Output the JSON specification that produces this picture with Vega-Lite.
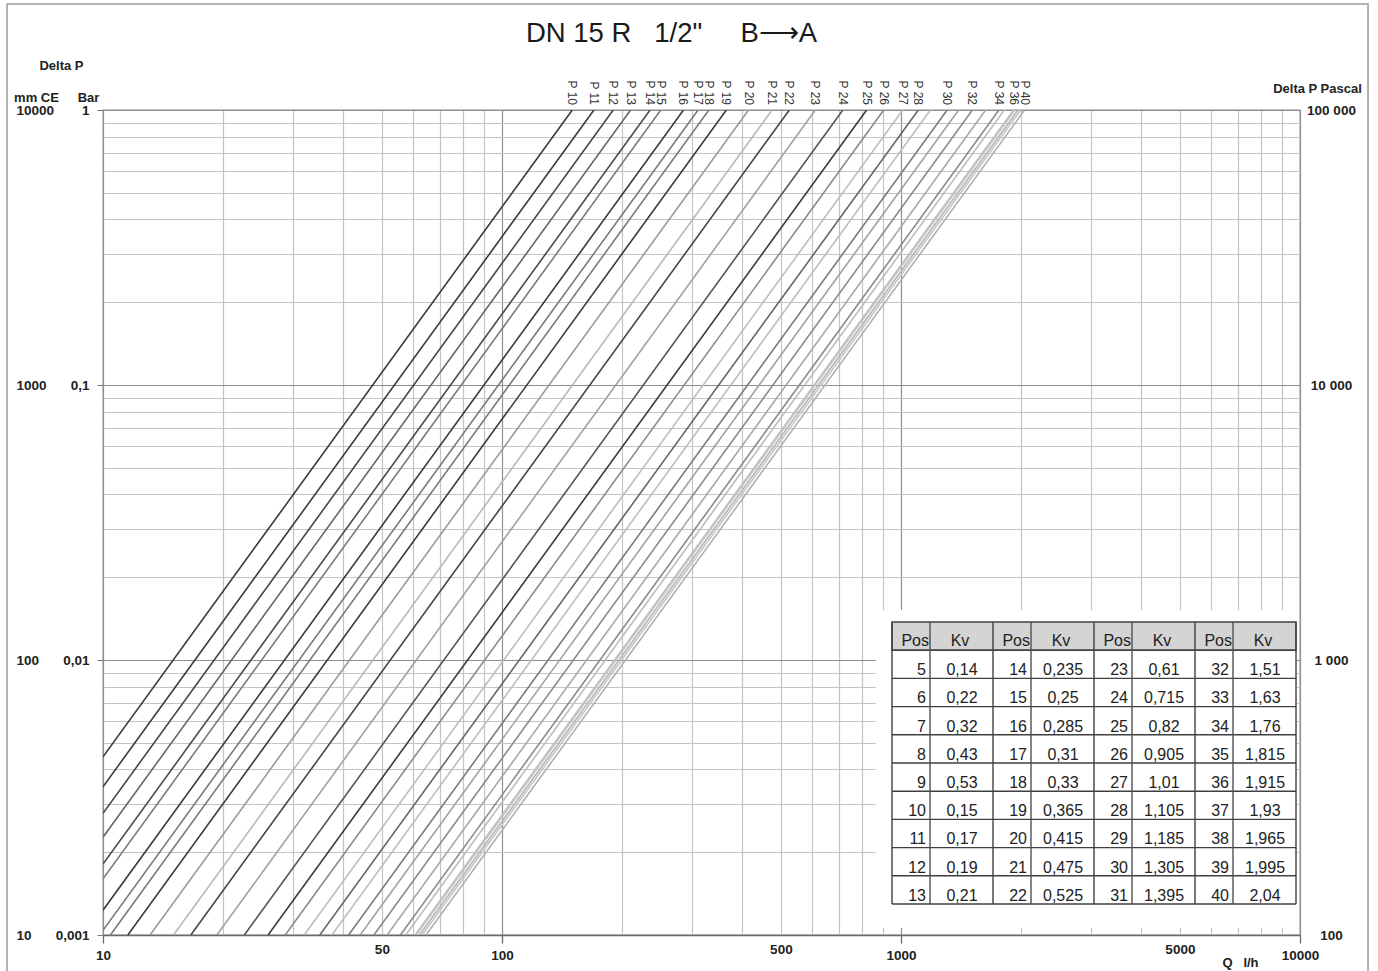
{
  "$schema": "https://vega.github.io/schema/vega-lite/v6.json",
  "width": 1197,
  "height": 825,
  "autosize": "none",
  "padding": {"left": 103, "top": 110, "right": 78, "bottom": 36},
  "background": "white",
  "config": {
    "locale": {"number": {"decimal": ",", "thousands": " ", "grouping": [3], "currency": ["", " €"]}},
    "view": {"stroke": "#8c8c8c", "strokeWidth": 1.3},
    "axis": {
      "labelFont": "Liberation Sans", "labelFontWeight": "bold", "labelFontSize": 13.5, "labelColor": "#222222",
      "titleFont": "Liberation Sans", "titleFontWeight": "bold", "titleFontSize": 13, "titleColor": "#222222",
      "grid": false, "labelFlush": false, "labelOverlap": false
    }
  },
  "title": {
    "text": "DN 15 R\u00a0\u00a0\u00a01/2\"\u00a0\u00a0\u00a0\u00a0\u00a0B⟶A",
    "font": "Liberation Sans", "fontSize": 27.5, "fontWeight": "normal", "color": "#1a1a1a",
    "anchor": "middle", "frame": "group", "baseline": "alphabetic", "offset": -66, "dx": -30
  },
  "datasets": {
    "lines": [
      {"pos": "P10", "q": 10, "dp": 0.0044444}, {"pos": "P10", "q": 150, "dp": 1},
      {"pos": "P11", "q": 10, "dp": 0.0034602}, {"pos": "P11", "q": 170, "dp": 1},
      {"pos": "P12", "q": 10, "dp": 0.0027701}, {"pos": "P12", "q": 190, "dp": 1},
      {"pos": "P13", "q": 10, "dp": 0.0022676}, {"pos": "P13", "q": 210, "dp": 1},
      {"pos": "P14", "q": 10, "dp": 0.0018108}, {"pos": "P14", "q": 235, "dp": 1},
      {"pos": "P15", "q": 10, "dp": 0.0016}, {"pos": "P15", "q": 250, "dp": 1},
      {"pos": "P16", "q": 10, "dp": 0.0012311}, {"pos": "P16", "q": 285, "dp": 1},
      {"pos": "P17", "q": 10, "dp": 0.0010406}, {"pos": "P17", "q": 310, "dp": 1},
      {"pos": "P18", "q": 10.436, "dp": 0.001}, {"pos": "P18", "q": 330, "dp": 1},
      {"pos": "P19", "q": 11.542, "dp": 0.001}, {"pos": "P19", "q": 365, "dp": 1},
      {"pos": "P20", "q": 13.123, "dp": 0.001}, {"pos": "P20", "q": 415, "dp": 1},
      {"pos": "P21", "q": 15.021, "dp": 0.001}, {"pos": "P21", "q": 475, "dp": 1},
      {"pos": "P22", "q": 16.602, "dp": 0.001}, {"pos": "P22", "q": 525, "dp": 1},
      {"pos": "P23", "q": 19.29, "dp": 0.001}, {"pos": "P23", "q": 610, "dp": 1},
      {"pos": "P24", "q": 22.61, "dp": 0.001}, {"pos": "P24", "q": 715, "dp": 1},
      {"pos": "P25", "q": 25.931, "dp": 0.001}, {"pos": "P25", "q": 820, "dp": 1},
      {"pos": "P26", "q": 28.619, "dp": 0.001}, {"pos": "P26", "q": 905, "dp": 1},
      {"pos": "P27", "q": 31.939, "dp": 0.001}, {"pos": "P27", "q": 1010, "dp": 1},
      {"pos": "P28", "q": 34.943, "dp": 0.001}, {"pos": "P28", "q": 1105, "dp": 1},
      {"pos": "P29", "q": 37.473, "dp": 0.001}, {"pos": "P29", "q": 1185, "dp": 1},
      {"pos": "P30", "q": 41.268, "dp": 0.001}, {"pos": "P30", "q": 1305, "dp": 1},
      {"pos": "P31", "q": 44.114, "dp": 0.001}, {"pos": "P31", "q": 1395, "dp": 1},
      {"pos": "P32", "q": 47.75, "dp": 0.001}, {"pos": "P32", "q": 1510, "dp": 1},
      {"pos": "P33", "q": 51.545, "dp": 0.001}, {"pos": "P33", "q": 1630, "dp": 1},
      {"pos": "P34", "q": 55.656, "dp": 0.001}, {"pos": "P34", "q": 1760, "dp": 1},
      {"pos": "P35", "q": 57.395, "dp": 0.001}, {"pos": "P35", "q": 1815, "dp": 1},
      {"pos": "P36", "q": 60.558, "dp": 0.001}, {"pos": "P36", "q": 1915, "dp": 1},
      {"pos": "P37", "q": 61.032, "dp": 0.001}, {"pos": "P37", "q": 1930, "dp": 1},
      {"pos": "P38", "q": 62.139, "dp": 0.001}, {"pos": "P38", "q": 1965, "dp": 1},
      {"pos": "P39", "q": 63.087, "dp": 0.001}, {"pos": "P39", "q": 1995, "dp": 1},
      {"pos": "P40", "q": 64.51, "dp": 0.001}, {"pos": "P40", "q": 2040, "dp": 1}
    ],
    "labels": [
      {"label": "P 10", "q": 150}, {"label": "P 11", "q": 170}, {"label": "P 12", "q": 190},
      {"label": "P 13", "q": 210}, {"label": "P 14", "q": 235}, {"label": "P 15", "q": 250},
      {"label": "P 16", "q": 285}, {"label": "P 17", "q": 310}, {"label": "P 18", "q": 330},
      {"label": "P 19", "q": 365}, {"label": "P 20", "q": 415}, {"label": "P 21", "q": 475},
      {"label": "P 22", "q": 525}, {"label": "P 23", "q": 610}, {"label": "P 24", "q": 715},
      {"label": "P 25", "q": 820}, {"label": "P 26", "q": 905}, {"label": "P 27", "q": 1010},
      {"label": "P 28", "q": 1105}, {"label": "P 30", "q": 1305}, {"label": "P 32", "q": 1510},
      {"label": "P 34", "q": 1760}, {"label": "P 36", "q": 1915}, {"label": "P 40", "q": 2040}
    ],
    "table": [
      {"row": 1, "group": 0, "pos": 5, "kv": 0.14}, {"row": 2, "group": 0, "pos": 6, "kv": 0.22},
      {"row": 3, "group": 0, "pos": 7, "kv": 0.32}, {"row": 4, "group": 0, "pos": 8, "kv": 0.43},
      {"row": 5, "group": 0, "pos": 9, "kv": 0.53}, {"row": 6, "group": 0, "pos": 10, "kv": 0.15},
      {"row": 7, "group": 0, "pos": 11, "kv": 0.17}, {"row": 8, "group": 0, "pos": 12, "kv": 0.19},
      {"row": 9, "group": 0, "pos": 13, "kv": 0.21},
      {"row": 1, "group": 1, "pos": 14, "kv": 0.235}, {"row": 2, "group": 1, "pos": 15, "kv": 0.25},
      {"row": 3, "group": 1, "pos": 16, "kv": 0.285}, {"row": 4, "group": 1, "pos": 17, "kv": 0.31},
      {"row": 5, "group": 1, "pos": 18, "kv": 0.33}, {"row": 6, "group": 1, "pos": 19, "kv": 0.365},
      {"row": 7, "group": 1, "pos": 20, "kv": 0.415}, {"row": 8, "group": 1, "pos": 21, "kv": 0.475},
      {"row": 9, "group": 1, "pos": 22, "kv": 0.525},
      {"row": 1, "group": 2, "pos": 23, "kv": 0.61}, {"row": 2, "group": 2, "pos": 24, "kv": 0.715},
      {"row": 3, "group": 2, "pos": 25, "kv": 0.82}, {"row": 4, "group": 2, "pos": 26, "kv": 0.905},
      {"row": 5, "group": 2, "pos": 27, "kv": 1.01}, {"row": 6, "group": 2, "pos": 28, "kv": 1.105},
      {"row": 7, "group": 2, "pos": 29, "kv": 1.185}, {"row": 8, "group": 2, "pos": 30, "kv": 1.305},
      {"row": 9, "group": 2, "pos": 31, "kv": 1.395},
      {"row": 1, "group": 3, "pos": 32, "kv": 1.51}, {"row": 2, "group": 3, "pos": 33, "kv": 1.63},
      {"row": 3, "group": 3, "pos": 34, "kv": 1.76}, {"row": 4, "group": 3, "pos": 35, "kv": 1.815},
      {"row": 5, "group": 3, "pos": 36, "kv": 1.915}, {"row": 6, "group": 3, "pos": 37, "kv": 1.93},
      {"row": 7, "group": 3, "pos": 38, "kv": 1.965}, {"row": 8, "group": 3, "pos": 39, "kv": 1.995},
      {"row": 9, "group": 3, "pos": 40, "kv": 2.04}
    ]
  },
  "resolve": {"scale": {"x": "independent", "y": "independent", "color": "independent"}},
  "layer": [
    {
      "data": {"name": "lines"},
      "mark": {"type": "point", "opacity": 0},
      "encoding": {
        "x": {"field": "q", "type": "quantitative", "scale": {"type": "log", "domain": [10, 10000], "nice": false},
          "axis": {"orient": "bottom", "grid": true, "values": [10,20,30,40,50,60,70,80,90,100,200,300,400,500,600,700,800,900,1000,2000,3000,4000,5000,6000,7000,8000,9000,10000],
            "labels": false, "ticks": false, "domain": false, "title": null, "gridWidth": 1.2,
            "gridColor": {"condition": {"test": "indexof([10,100,1000,10000], datum.value) >= 0", "value": "#8f8f8f"}, "value": "#c4c4c4"}}},
        "y": {"field": "dp", "type": "quantitative", "scale": {"type": "log", "domain": [0.001, 1], "nice": false},
          "axis": {"orient": "left", "grid": true, "values": [0.001,0.002,0.003,0.004,0.005,0.006,0.007,0.008,0.009,0.01,0.02,0.03,0.04,0.05,0.06,0.07,0.08,0.09,0.1,0.2,0.3,0.4,0.5,0.6,0.7,0.8,0.9,1],
            "labels": false, "ticks": false, "domain": false, "title": null, "gridWidth": 1.2,
            "gridColor": {"condition": {"test": "indexof([0.001,0.01,0.1,1], datum.value) >= 0", "value": "#8f8f8f"}, "value": "#c4c4c4"}}}
      }
    },
    {
      "data": {"name": "lines"},
      "mark": {"type": "line", "strokeWidth": 1.6, "clip": true},
      "encoding": {
        "x": {"field": "q", "type": "quantitative", "scale": {"type": "log", "domain": [10, 10000], "nice": false},
          "axis": {"orient": "bottom", "values": [10, 100, 1000, 10000], "format": "d", "domain": true, "domainColor": "#6a6a6a", "domainWidth": 1.5,
            "ticks": true, "tickColor": "#6a6a6a", "tickSize": 8, "tickWidth": 1.3, "labelPadding": 5,
            "title": "Q\u00a0\u00a0\u00a0l/h", "titleAngle": 0, "titleX": 1137, "titleY": 27, "titleAlign": "center", "titleBaseline": "middle"}},
        "y": {"field": "dp", "type": "quantitative", "scale": {"type": "log", "domain": [0.001, 1], "nice": false},
          "axis": {"orient": "left", "values": [1, 0.1, 0.01, 0.001], "labelExpr": "replace(format(datum.value, '~g'), '.', ',')",
            "domain": false, "ticks": true, "tickColor": "#777777", "tickSize": 6, "labelPadding": 8,
            "title": "Bar", "titleAngle": 0, "titleX": -15, "titleY": -13, "titleAlign": "center", "titleBaseline": "middle"}},
        "color": {"field": "pos", "type": "nominal", "legend": null,
          "scale": {"domain": ["P10","P11","P12","P13","P14","P15","P16","P17","P18","P19","P20","P21","P22","P23","P24","P25","P26","P27","P28","P29","P30","P31","P32","P33","P34","P35","P36","P37","P38","P39","P40"],
            "range": ["#3a3a3a","#3a3a3a","#454545","#666666","#4a4a4a","#7a7a7a","#3a3a3a","#7a7a7a","#7a7a7a","#3a3a3a","#9a9a9a","#b8b8b8","#454545","#a0a0a0","#555555","#3a3a3a","#8a8a8a","#bdbdbd","#666666","#bdbdbd","#7a7a7a","#a0a0a0","#8a8a8a","#a8a8a8","#8a8a8a","#bdbdbd","#bdbdbd","#c6c6c6","#b5b5b5","#c6c6c6","#b0b0b0"]}}
      }
    },
    {
      "data": {"name": "labels"},
      "mark": {"type": "text", "angle": 90, "align": "right", "baseline": "middle", "dx": -5, "font": "Liberation Sans", "fontSize": 12, "color": "#333333"},
      "encoding": {
        "x": {"field": "q", "type": "quantitative", "scale": {"type": "log", "domain": [10, 10000], "nice": false},
          "axis": {"orient": "bottom", "values": [50, 500, 5000], "format": "d", "domain": false, "ticks": false, "tickSize": 0, "labelPadding": 7, "title": null}},
        "y": {"datum": 1, "type": "quantitative", "scale": {"type": "log", "domain": [0.001, 1], "nice": false},
          "axis": {"orient": "left", "values": [1, 0.1, 0.01, 0.001], "labelExpr": "format(datum.value*10000, 'd')",
            "labelAlign": "left", "domain": false, "ticks": false, "tickSize": 0, "labelPadding": 87,
            "title": "mm CE", "titleAngle": 0, "titleX": -67, "titleY": -13, "titleAlign": "center", "titleBaseline": "middle"}},
        "text": {"field": "label", "type": "nominal"}
      }
    },
    {
      "data": {"name": "lines"},
      "mark": {"type": "point", "opacity": 0},
      "encoding": {
        "y": {"field": "dp", "type": "quantitative", "scale": {"type": "log", "domain": [0.001, 1], "nice": false},
          "axis": {"orient": "right", "values": [1, 0.1, 0.01, 0.001], "labelExpr": "replace(format(datum.value*100000, ',d'), ',', ' ')",
            "labelAlign": "center", "domain": false, "ticks": false, "tickSize": 0, "labelPadding": 31,
            "title": "Delta P Pascal", "titleAngle": 0, "titleX": 17, "titleY": -22, "titleAlign": "center", "titleBaseline": "middle"}}
      }
    },
    {
      "data": {"name": "lines"},
      "mark": {"type": "point", "opacity": 0},
      "encoding": {
        "y": {"field": "dp", "type": "quantitative", "scale": {"type": "log", "domain": [0.001, 1], "nice": false},
          "axis": {"orient": "left", "labels": false, "domain": false, "ticks": false,
            "title": "Delta P", "titleAngle": 0, "titleX": -42, "titleY": -45, "titleAlign": "center", "titleBaseline": "middle"}}
      }
    },
    {
      "data": {"values": [{}]},
      "mark": {"type": "rect", "fill": "white", "stroke": null},
      "encoding": {
        "x": {"datum": -0.16, "type": "quantitative", "scale": {"domain": [-7.8119, 4.0396], "nice": false, "zero": false}, "axis": null},
        "x2": {"datum": 4.01},
        "y": {"datum": -0.43, "type": "quantitative", "scale": {"domain": [-18.156, 11.099], "nice": false, "zero": false, "reverse": true}, "axis": null},
        "y2": {"datum": 10.85}
      }
    },
    {
      "data": {"values": [{}]},
      "mark": {"type": "rect", "fill": "#d4d4d4", "stroke": "#404040", "strokeWidth": 1.4},
      "encoding": {
        "x": {"datum": 0, "type": "quantitative", "scale": {"domain": [-7.8119, 4.0396], "nice": false, "zero": false}, "axis": null},
        "x2": {"datum": 4},
        "y": {"datum": 0, "type": "quantitative", "scale": {"domain": [-18.156, 11.099], "nice": false, "zero": false, "reverse": true}, "axis": null},
        "y2": {"datum": 1}
      }
    },
    {
      "data": {"name": "table"},
      "transform": [{"filter": "datum.group == 0"}],
      "mark": {"type": "rule", "stroke": "#404040", "strokeWidth": 1.4},
      "encoding": {
        "x": {"datum": 0, "type": "quantitative", "scale": {"domain": [-7.8119, 4.0396], "nice": false, "zero": false}, "axis": null},
        "x2": {"datum": 4},
        "y": {"field": "row", "type": "quantitative", "scale": {"domain": [-18.156, 11.099], "nice": false, "zero": false, "reverse": true}, "axis": null}
      }
    },
    {
      "data": {"values": [{}]},
      "mark": {"type": "rule", "stroke": "#404040", "strokeWidth": 1.4},
      "encoding": {
        "x": {"datum": 0, "type": "quantitative", "scale": {"domain": [-7.8119, 4.0396], "nice": false, "zero": false}, "axis": null},
        "x2": {"datum": 4},
        "y": {"datum": 10, "type": "quantitative", "scale": {"domain": [-18.156, 11.099], "nice": false, "zero": false, "reverse": true}, "axis": null}
      }
    },
    {
      "data": {"name": "table"},
      "transform": [{"filter": "datum.row == 1"}],
      "mark": {"type": "rule", "stroke": "#404040", "strokeWidth": 1.4},
      "encoding": {
        "x": {"field": "group", "type": "quantitative", "scale": {"domain": [-7.8119, 4.0396], "nice": false, "zero": false}, "axis": null},
        "y": {"datum": 0, "type": "quantitative", "scale": {"domain": [-18.156, 11.099], "nice": false, "zero": false, "reverse": true}, "axis": null},
        "y2": {"datum": 10}
      }
    },
    {
      "data": {"name": "table"},
      "transform": [{"filter": "datum.row == 1"}],
      "mark": {"type": "rule", "stroke": "#505050", "strokeWidth": 1.4, "xOffset": 38},
      "encoding": {
        "x": {"field": "group", "type": "quantitative", "scale": {"domain": [-7.8119, 4.0396], "nice": false, "zero": false}, "axis": null},
        "y": {"datum": 0, "type": "quantitative", "scale": {"domain": [-18.156, 11.099], "nice": false, "zero": false, "reverse": true}, "axis": null},
        "y2": {"datum": 10}
      }
    },
    {
      "data": {"values": [{}]},
      "mark": {"type": "rule", "stroke": "#404040", "strokeWidth": 1.4},
      "encoding": {
        "x": {"datum": 4, "type": "quantitative", "scale": {"domain": [-7.8119, 4.0396], "nice": false, "zero": false}, "axis": null},
        "y": {"datum": 0, "type": "quantitative", "scale": {"domain": [-18.156, 11.099], "nice": false, "zero": false, "reverse": true}, "axis": null},
        "y2": {"datum": 10}
      }
    },
    {
      "data": {"name": "table"},
      "transform": [{"filter": "datum.row == 1"}],
      "mark": {"type": "text", "text": "Pos", "align": "right", "baseline": "alphabetic", "dx": 37, "dy": 24, "font": "Liberation Sans", "fontSize": 16, "color": "#222222"},
      "encoding": {
        "x": {"field": "group", "type": "quantitative", "scale": {"domain": [-7.8119, 4.0396], "nice": false, "zero": false}, "axis": null},
        "y": {"datum": 0, "type": "quantitative", "scale": {"domain": [-18.156, 11.099], "nice": false, "zero": false, "reverse": true}, "axis": null}
      }
    },
    {
      "data": {"name": "table"},
      "transform": [{"filter": "datum.row == 1"}],
      "mark": {"type": "text", "text": "Kv", "align": "center", "baseline": "alphabetic", "dx": 68, "dy": 24, "font": "Liberation Sans", "fontSize": 16, "color": "#222222"},
      "encoding": {
        "x": {"field": "group", "type": "quantitative", "scale": {"domain": [-7.8119, 4.0396], "nice": false, "zero": false}, "axis": null},
        "y": {"datum": 0, "type": "quantitative", "scale": {"domain": [-18.156, 11.099], "nice": false, "zero": false, "reverse": true}, "axis": null}
      }
    },
    {
      "data": {"name": "table"},
      "mark": {"type": "text", "align": "right", "baseline": "alphabetic", "dx": 34, "dy": 25, "font": "Liberation Sans", "fontSize": 16, "color": "#222222"},
      "encoding": {
        "x": {"field": "group", "type": "quantitative", "scale": {"domain": [-7.8119, 4.0396], "nice": false, "zero": false}, "axis": null},
        "y": {"field": "row", "type": "quantitative", "scale": {"domain": [-18.156, 11.099], "nice": false, "zero": false, "reverse": true}, "axis": null},
        "text": {"field": "pos", "type": "quantitative", "format": "d"}
      }
    },
    {
      "data": {"name": "table"},
      "mark": {"type": "text", "align": "center", "baseline": "alphabetic", "dx": 70, "dy": 25, "font": "Liberation Sans", "fontSize": 16, "color": "#222222"},
      "encoding": {
        "x": {"field": "group", "type": "quantitative", "scale": {"domain": [-7.8119, 4.0396], "nice": false, "zero": false}, "axis": null},
        "y": {"field": "row", "type": "quantitative", "scale": {"domain": [-18.156, 11.099], "nice": false, "zero": false, "reverse": true}, "axis": null},
        "text": {"field": "kv", "type": "quantitative", "format": "~g"}
      }
    },
    {
      "data": {"values": [{}]},
      "mark": {"type": "rect", "fillOpacity": 0, "stroke": "#9a9a9a", "strokeWidth": 1.5},
      "encoding": {
        "x": {"datum": -8.762, "type": "quantitative", "scale": {"domain": [-7.8119, 4.0396], "nice": false, "zero": false}, "axis": null},
        "x2": {"datum": 4.713},
        "y": {"datum": -21.915, "type": "quantitative", "scale": {"domain": [-18.156, 11.099], "nice": false, "zero": false, "reverse": true}, "axis": null},
        "y2": {"datum": 12.6}
      }
    }
  ]
}
